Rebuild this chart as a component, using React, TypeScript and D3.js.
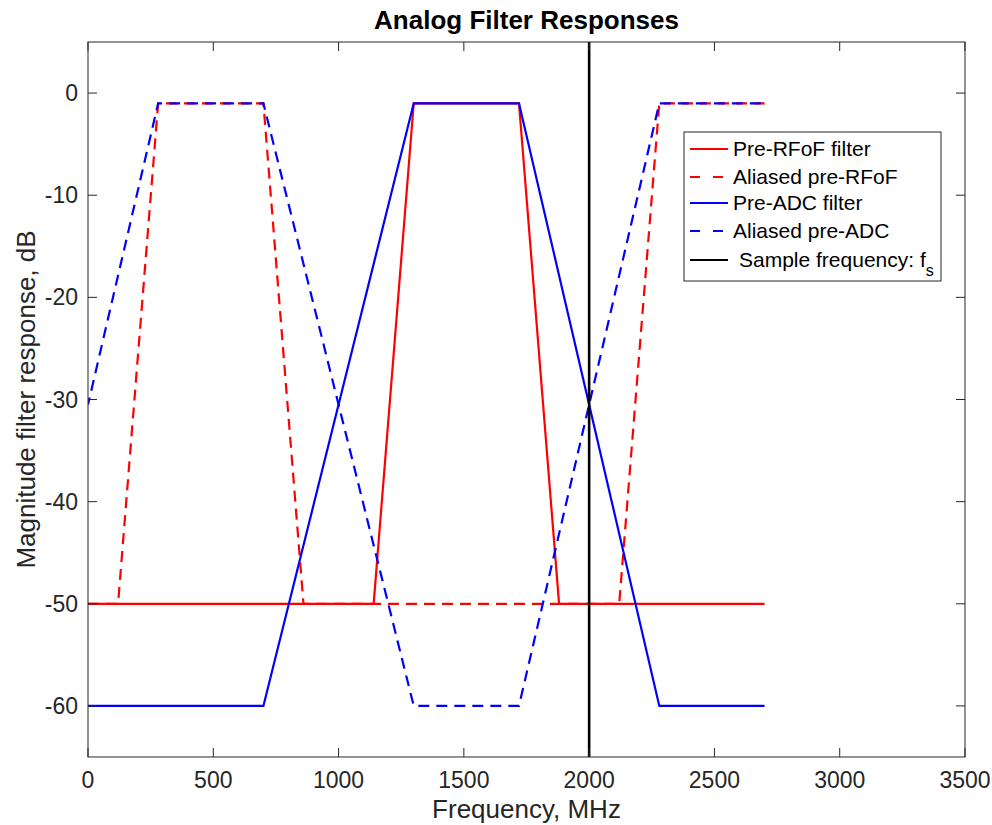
import { useEffect, useRef } from "react";
import * as d3 from "d3";

const W = 992;
const H = 825;
const M = { top: 42, right: 27, bottom: 68, left: 88 };
const IW = W - M.left - M.right;
const IH = H - M.top - M.bottom;

// frequency breakpoints (MHz) and response (dB)
const preRfofF = [0, 1140, 1300, 1720, 1880, 2700];
const preRfofDb = [-50, -50, -1, -1, -50, -50];
const aliasRfofF = [0, 120, 280, 700, 860, 2120, 2280, 2700];
const aliasRfofDb = [-50, -50, -1, -1, -50, -50, -1, -1];
const preAdcF = [0, 700, 1300, 1720, 2280, 2700];
const preAdcDb = [-60, -60, -1, -1, -60, -60];
const aliasAdcF = [0, 280, 700, 1300, 1720, 2280, 2700];
const aliasAdcDb = [-30.5, -1, -1, -60, -60, -1, -1];
const fs = 2000;

const xTicks = [0, 500, 1000, 1500, 2000, 2500, 3000, 3500];
const yTicks = [0, -10, -20, -30, -40, -50, -60];

const FONT = "'Liberation Sans', Arial, Helvetica, sans-serif";

export default function App() {
  const ref = useRef<SVGSVGElement>(null);

  useEffect(() => {
    if (!ref.current) return;
    const svg = d3.select(ref.current);
    svg.selectAll("*").remove();

    const x = d3.scaleLinear().domain([0, 3500]).range([0, IW]);
    const y = d3.scaleLinear().domain([-65, 5]).range([IH, 0]);

    svg.append("rect").attr("width", W).attr("height", H).attr("fill", "#fff");

    const g = svg.append("g").attr("transform", `translate(${M.left},${M.top})`);

    svg.append("defs").append("clipPath").attr("id", "plot-clip")
      .append("rect").attr("width", IW).attr("height", IH);

    const plot = g.append("g").attr("clip-path", "url(#plot-clip)");
    const line = d3.line<[number, number]>().x(d => x(d[0])).y(d => y(d[1]));

    const series = [
      { f: preRfofF, db: preRfofDb, color: "#ff0000", dash: null, offset: 0, label: "Pre-RFoF filter" },
      { f: aliasRfofF, db: aliasRfofDb, color: "#ff0000", dash: "11,7", offset: 0, label: "Aliased pre-RFoF" },
      { f: preAdcF, db: preAdcDb, color: "#0000ff", dash: null, offset: 0, label: "Pre-ADC filter" },
      { f: aliasAdcF, db: aliasAdcDb, color: "#0000ff", dash: "11,7", offset: 3.7, label: "Aliased pre-ADC" },
    ];

    series.forEach(s => {
      const pts = s.f.map((f, i) => [f, s.db[i]] as [number, number]);
      plot.append("path")
        .attr("d", line(pts))
        .attr("fill", "none")
        .attr("stroke", s.color)
        .attr("stroke-width", 2.2)
        .attr("stroke-dasharray", s.dash ?? null)
        .attr("stroke-dashoffset", s.offset);
    });

    plot.append("line")
      .attr("x1", x(fs)).attr("x2", x(fs))
      .attr("y1", 0).attr("y2", IH)
      .attr("stroke", "#000").attr("stroke-width", 2.6);

    // axes box with inward ticks
    const axisColor = "#262626";
    g.append("rect").attr("width", IW).attr("height", IH)
      .attr("fill", "none").attr("stroke", axisColor).attr("stroke-width", 1);

    const tl = 9;
    xTicks.forEach(t => {
      g.append("line").attr("x1", x(t)).attr("x2", x(t)).attr("y1", IH).attr("y2", IH - tl)
        .attr("stroke", axisColor);
      g.append("line").attr("x1", x(t)).attr("x2", x(t)).attr("y1", 0).attr("y2", tl)
        .attr("stroke", axisColor);
      g.append("text").attr("x", x(t)).attr("y", IH + 31)
        .attr("text-anchor", "middle").attr("font-size", 23).attr("font-family", FONT)
        .attr("fill", axisColor).text(String(t));
    });
    yTicks.forEach(t => {
      g.append("line").attr("x1", 0).attr("x2", tl).attr("y1", y(t)).attr("y2", y(t))
        .attr("stroke", axisColor);
      g.append("line").attr("x1", IW).attr("x2", IW - tl).attr("y1", y(t)).attr("y2", y(t))
        .attr("stroke", axisColor);
      g.append("text").attr("x", -10).attr("y", y(t)).attr("dy", "0.35em")
        .attr("text-anchor", "end").attr("font-size", 23).attr("font-family", FONT)
        .attr("fill", axisColor).text(String(t));
    });

    g.append("text").attr("x", IW / 2).attr("y", IH + 61)
      .attr("text-anchor", "middle").attr("font-size", 26).attr("font-family", FONT)
      .attr("fill", axisColor).text("Frequency, MHz");
    g.append("text")
      .attr("transform", `translate(-53,${IH / 2}) rotate(-90)`)
      .attr("text-anchor", "middle").attr("font-size", 26).attr("font-family", FONT)
      .attr("fill", axisColor).text("Magnitude filter response, dB");

    svg.append("text").attr("x", M.left + IW / 2).attr("y", 29)
      .attr("text-anchor", "middle").attr("font-size", 26).attr("font-weight", "bold")
      .attr("font-family", FONT).attr("fill", "#000").text("Analog Filter Responses");

    // legend
    const lg = svg.append("g").attr("transform", "translate(684,132)");
    lg.append("rect").attr("width", 257).attr("height", 149)
      .attr("fill", "#fff").attr("stroke", axisColor).attr("stroke-width", 1);
    const rows = [...series, { color: "#000", dash: null, label: "Sample frequency: f" }];
    const rowY = [17, 45, 71, 99, 128];
    rows.forEach((r, i) => {
      lg.append("line").attr("x1", 6).attr("x2", 44).attr("y1", rowY[i]).attr("y2", rowY[i])
        .attr("stroke", r.color).attr("stroke-width", 2.2)
        .attr("stroke-dasharray", r.dash ? "10,13" : null);
      const t = lg.append("text").attr("x", i === 4 ? 55 : 49).attr("y", rowY[i]).attr("dy", "0.35em")
        .attr("font-size", 21).attr("font-family", FONT).attr("fill", "#000").text(r.label);
      if (i === 4) {
        t.append("tspan").attr("dy", 9).attr("font-size", 16).text("s");
      }
    });
  }, []);

  return (
    <svg
      ref={ref}
      width={W}
      height={H}
      style={{ display: "block", position: "absolute", left: 0, top: 0 }}
    />
  );
}
